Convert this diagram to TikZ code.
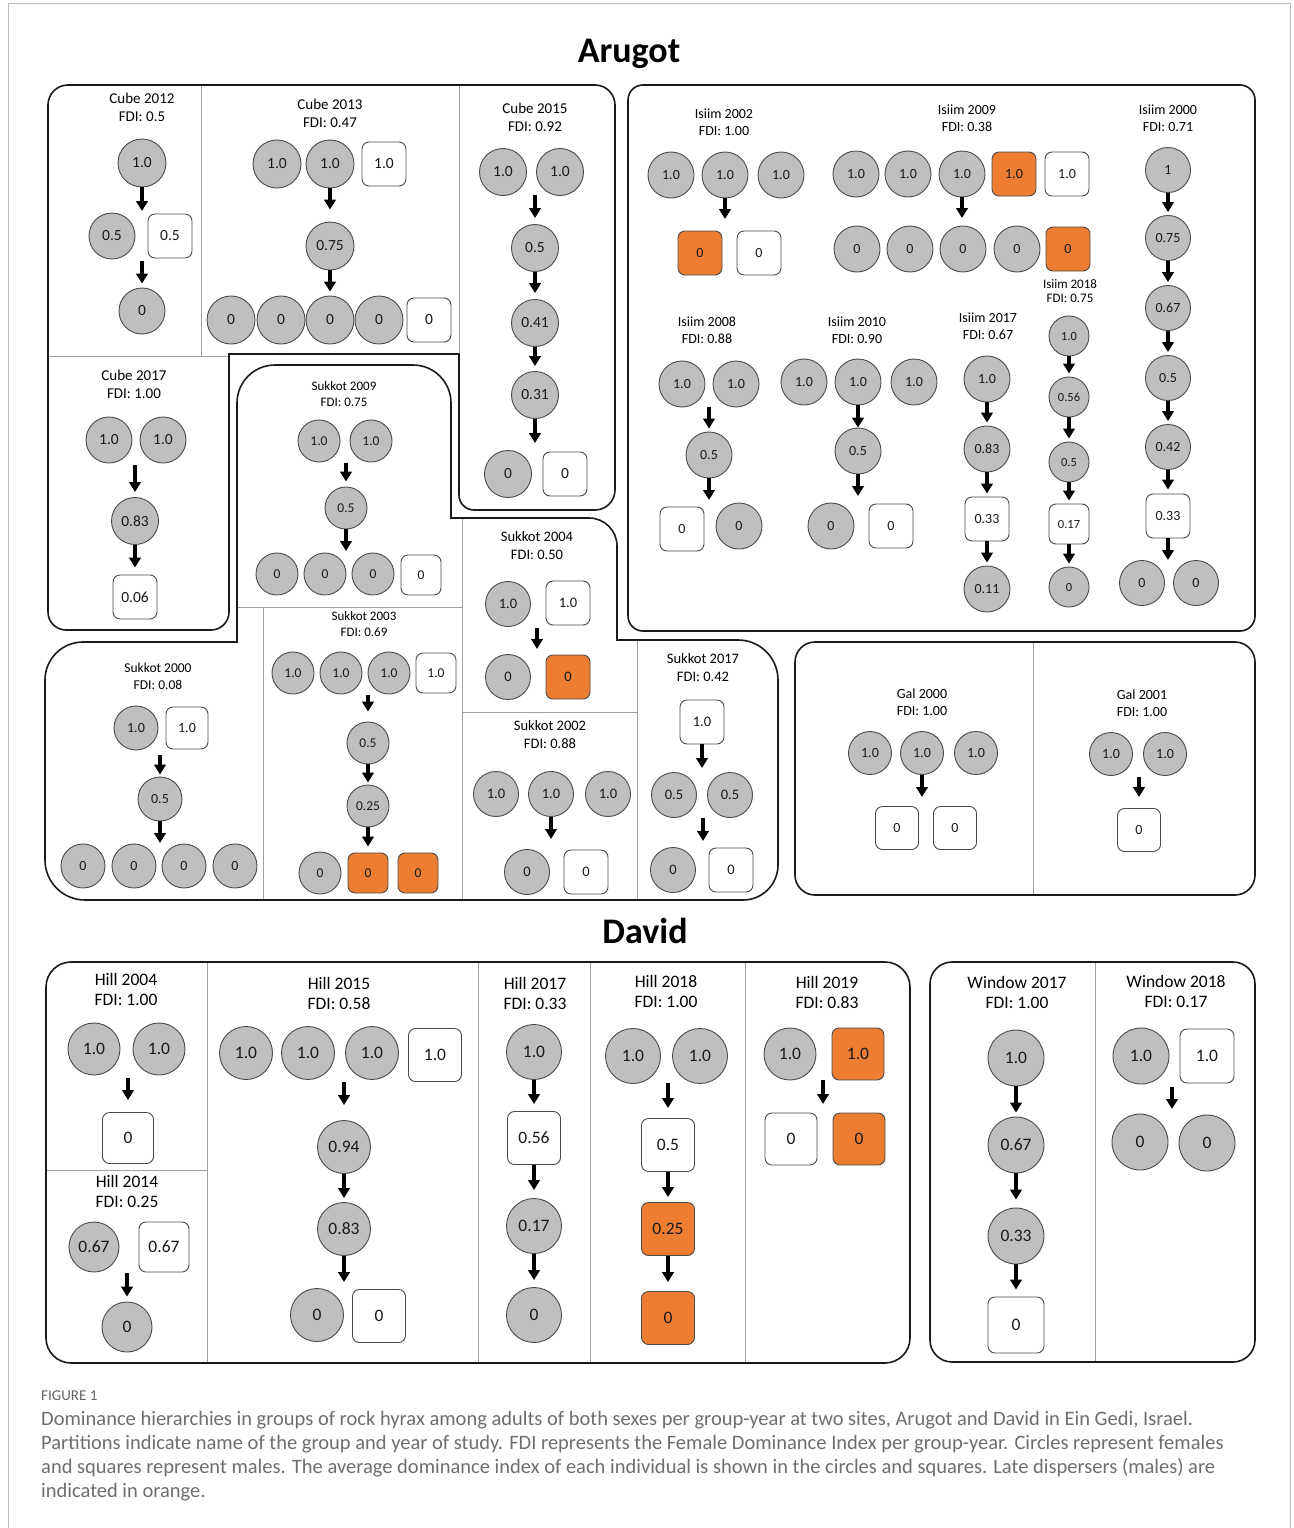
\documentclass[tikz,border=0pt]{standalone}
\usepackage{fontspec}
\setmainfont{Carlito}
\usetikzlibrary{arrows.meta}
\definecolor{fgray}{HTML}{BFBFBF}
\definecolor{ndraw}{HTML}{4A4A4A}
\definecolor{orng}{HTML}{ED7D31}
\definecolor{boxc}{HTML}{1A1A1A}
\definecolor{sepc}{HTML}{A0A0A0}
\definecolor{capc}{HTML}{6E6E6E}
\definecolor{framec}{HTML}{BDBDBD}
\tikzset{
  F/.style={circle, draw=ndraw, fill=fgray, line width=0.9pt, minimum size=#1pt, inner sep=0pt, text=black!90},
  F/.default=46,
  M/.style={rectangle, rounded corners=7pt, draw=ndraw, fill=white, line width=0.9pt, minimum size=#1pt, inner sep=0pt, text=black!90},
  M/.default=44,
  O/.style={M=#1, fill=orng},
  O/.default=44,
  arr/.style={line width=3.2pt, draw=black, -{Triangle[width=11.5pt,length=10pt]}},
  box/.style={draw=boxc, line width=1.6pt},
  sep/.style={draw=sepc, line width=1pt},
  ttl/.style={align=center, inner sep=0pt, text=black},
  captxt/.style={anchor=west, inner sep=0pt, text=capc, font=\fontsize{20.5}{22}\selectfont},
}
\begin{document}
\begin{tikzpicture}[x=1pt,y=-1pt]
\useasboundingbox (0,0) rectangle (1293,1528);
\fill[white] (0,0) rectangle (1293,1528);
\draw[framec, line width=1pt] (8,1528) -- (8,4) -- (1290,4) -- (1290,1528);

% site titles
\node[font=\fontsize{36}{36}\selectfont\bfseries] (tA) at (629,54) {Arugot};
\node[font=\fontsize{36}{36}\selectfont\bfseries] (tD) at (645,931) {David};

% separators
\draw[sep] (201,85) -- (201,356);
\draw[sep] (48,356) -- (229,356);
\draw[sep] (459,85) -- (459,354);
\draw[sep] (237,607) -- (462,607);
\draw[sep] (263,607) -- (263,900);
\draw[sep] (462,518) -- (462,900);
\draw[sep] (462,712) -- (637,712);
\draw[sep] (637,640) -- (637,900);
\draw[sep] (1033,642) -- (1033,895);
\draw[sep] (207,962) -- (207,1363);
\draw[sep] (478,962) -- (478,1363);
\draw[sep] (590,962) -- (590,1363);
\draw[sep] (745,962) -- (745,1363);
\draw[sep] (46,1170) -- (207,1170);
\draw[sep] (1095,962) -- (1095,1362);

% outlines
\draw[box] (68,85) -- (595,85) arc(270:360:20) -- (615,490) arc(0:90:20) -- (474,510) arc(90:180:15) -- (459,354) -- (229,354) -- (229,612) arc(0:90:18) -- (66,630) arc(90:180:18) -- (48,105) arc(180:270:20) -- cycle;
\draw[box] (237,403) arc(180:270:38) -- (413,365) arc(270:360:38) -- (451,518) -- (589,518) arc(270:360:28) -- (617,640) -- (738,640) arc(270:360:40) -- (778,865) arc(0:90:35) -- (85,900) arc(90:180:40) -- (45,680) arc(180:270:38) -- (237,642) -- cycle;
\draw[box, rounded corners=15pt] (628,85) rectangle (1255,631);
\draw[box, rounded corners=20pt] (795,642) rectangle (1255,895);
\draw[box, rounded corners=25pt] (46,962) rectangle (910,1363);
\draw[box, rounded corners=22pt] (930,962) rectangle (1255,1362);

% ---------------- Cube
\begin{scope}[every node/.append style={font=\fontsize{15.5}{18}\selectfont}, ttl/.append style={font=\fontsize{15}{18}\selectfont}]
\node[ttl] (t12) at (142,107) {Cube 2012\\FDI: 0.5};
\node[F=48] (c12a) at (142,163) {1.0};
\node[F=46] (c12b) at (112,236) {0.5};
\node[M=44] (c12c) at (170,236) {0.5};
\node[F=46] (c12d) at (142,311) {0};
\coordinate (c12p) at (142,211);
\coordinate (c12q) at (142,261);
\draw[arr] (c12a) -- (c12p);
\draw[arr, shorten >=4pt] (c12q) -- (c12d);

\node[ttl] (t13) at (330,113) {Cube 2013\\FDI: 0.47};
\node[F=48] (c13a) at (277,164) {1.0};
\node[F=48] (c13b) at (330,164) {1.0};
\node[M=44] (c13c) at (384,164) {1.0};
\node[F=48] (c13d) at (330,246) {0.75};
\node[F=48] (c13e) at (231,320) {0};
\node[F=48] (c13f) at (281,320) {0};
\node[F=48] (c13g) at (330,320) {0};
\node[F=48] (c13h) at (379,320) {0};
\node[M=44] (c13i) at (429,320) {0};
\draw[arr, shorten >=12pt] (c13b) -- (c13d);
\draw[arr, shorten >=4pt] (c13d) -- (c13g);

\node[ttl] (t15) at (535,117) {Cube 2015\\FDI: 0.92};
\node[F=47] (c15a) at (503,172) {1.0};
\node[F=47] (c15b) at (560,172) {1.0};
\node[F=47] (c15c) at (535,248) {0.5};
\node[F=47] (c15d) at (535,323) {0.41};
\node[F=47] (c15e) at (535,395) {0.31};
\node[F=47] (c15f) at (508,474) {0};
\node[M=44] (c15g) at (565,474) {0};
\coordinate (c15p) at (535,195);
\coordinate (c15q) at (535,443);
\draw[arr, shorten >=6pt] (c15p) -- (c15c);
\draw[arr, shorten >=6pt] (c15c) -- (c15d);
\draw[arr, shorten >=5pt] (c15d) -- (c15e);
\draw[arr] (c15e) -- (c15q);

\node[ttl] (t17) at (134,384) {Cube 2017\\FDI: 1.00};
\node[F=46] (c17a) at (109,440) {1.0};
\node[F=46] (c17b) at (163,440) {1.0};
\node[F=47] (c17c) at (135,521) {0.83};
\node[M=44] (c17d) at (135,597) {0.06};
\coordinate (c17p) at (135,465);
\draw[arr, shorten >=5pt] (c17p) -- (c17c);
\draw[arr, shorten >=7pt] (c17c) -- (c17d);
\end{scope}

% ---------------- Sukkot
\begin{scope}[every node/.append style={font=\fontsize{13.5}{16}\selectfont}, ttl/.append style={font=\fontsize{13}{16}\selectfont}]
\node[ttl] (ts09) at (344,394) {Sukkot 2009\\FDI: 0.75};
\node[F=42] (s09a) at (319,441) {1.0};
\node[F=42] (s09b) at (371,441) {1.0};
\node[F=42] (s09c) at (346,508) {0.5};
\node[F=42] (s09d) at (277,574) {0};
\node[F=42] (s09e) at (325,574) {0};
\node[F=42] (s09f) at (373,574) {0};
\node[M=40] (s09g) at (421,575) {0};
\coordinate (s09p) at (346,463);
\coordinate (s09q) at (346,551);
\draw[arr, shorten >=5pt] (s09p) -- (s09c);
\draw[arr] (s09c) -- (s09q);

\node[ttl] (ts03) at (364,624) {Sukkot 2003\\FDI: 0.69};
\node[F=42] (s03a) at (293,673) {1.0};
\node[F=42] (s03b) at (341,673) {1.0};
\node[F=42] (s03c) at (389,673) {1.0};
\node[M=40] (s03d) at (436,673) {1.0};
\node[F=42] (s03e) at (368,743) {0.5};
\node[F=42] (s03f) at (368,806) {0.25};
\node[F=42] (s03g) at (320,873) {0};
\node[O=40] (s03h) at (368,873) {0};
\node[O=40] (s03i) at (418,873) {0};
\coordinate (s03p) at (368,695);
\draw[arr, shorten >=10pt] (s03p) -- (s03e);
\draw[arr, shorten >=2pt] (s03e) -- (s03f);
\draw[arr, shorten >=6pt] (s03f) -- (s03h);
\end{scope}

\begin{scope}[every node/.append style={font=\fontsize{14}{17}\selectfont}, ttl/.append style={font=\fontsize{13.5}{17}\selectfont}]
\node[ttl] (ts00) at (158,676) {Sukkot 2000\\FDI: 0.08};
\node[F=44] (s00a) at (136,728) {1.0};
\node[M=42] (s00b) at (187,728) {1.0};
\node[F=44] (s00c) at (160,799) {0.5};
\node[F=44] (s00d) at (83,866) {0};
\node[F=44] (s00e) at (134,866) {0};
\node[F=44] (s00f) at (184,866) {0};
\node[F=44] (s00g) at (235,866) {0};
\coordinate (s00p) at (160,755);
\coordinate (s00q) at (160,843);
\draw[arr, shorten >=2pt] (s00p) -- (s00c);
\draw[arr] (s00c) -- (s00q);
\end{scope}

\begin{scope}[every node/.append style={font=\fontsize{14.5}{18}\selectfont}]
\node[ttl] (ts04) at (537,546) {Sukkot 2004\\FDI: 0.50};
\node[F=45] (s04a) at (508,604) {1.0};
\node[M=44] (s04b) at (568,603) {1.0};
\node[F=45] (s04c) at (508,677) {0};
\node[O=44] (s04d) at (568,677) {0};
\coordinate (s04p) at (537,628);
\coordinate (s04q) at (537,649);
\draw[arr] (s04p) -- (s04q);

\node[ttl] (ts02) at (550,735) {Sukkot 2002\\FDI: 0.88};
\node[F=45] (s02a) at (496,794) {1.0};
\node[F=45] (s02b) at (551,794) {1.0};
\node[F=45] (s02c) at (608,794) {1.0};
\node[F=45] (s02d) at (527,872) {0};
\node[M=44] (s02e) at (586,872) {0};
\coordinate (s02q) at (551,839);
\draw[arr] (s02b) -- (s02q);

\node[ttl] (ts17) at (703,668) {Sukkot 2017\\FDI: 0.42};
\node[M=44] (s17a) at (702,722) {1.0};
\node[F=45] (s17b) at (674,795) {0.5};
\node[F=45] (s17c) at (730,795) {0.5};
\node[F=45] (s17d) at (673,870) {0};
\node[M=44] (s17e) at (731,870) {0};
\coordinate (s17q) at (702,768);
\coordinate (s17p) at (703,818);
\coordinate (s17r) at (703,841);
\draw[arr] (s17a) -- (s17q);
\draw[arr] (s17p) -- (s17r);
\end{scope}

% ---------------- Isiim
\begin{scope}[every node/.append style={font=\fontsize{14}{17}\selectfont}]
\node[ttl] (ti02) at (724,122) {Isiim 2002\\FDI: 1.00};
\node[F=46] (i02a) at (671,175) {1.0};
\node[F=46] (i02b) at (725,175) {1.0};
\node[F=46] (i02c) at (781,175) {1.0};
\node[O=44] (i02d) at (700,253) {0};
\node[M=44] (i02e) at (759,253) {0};
\coordinate (i02q) at (725,219);
\draw[arr] (i02b) -- (i02q);

\node[ttl] (ti09) at (967,118) {Isiim 2009\\FDI: 0.38};
\node[F=46] (i09a) at (856,174) {1.0};
\node[F=46] (i09b) at (908,174) {1.0};
\node[F=46] (i09c) at (962,174) {1.0};
\node[O=44] (i09d) at (1014,174) {1.0};
\node[M=44] (i09e) at (1067,174) {1.0};
\node[F=46] (i09f) at (857,249) {0};
\node[F=46] (i09g) at (910,249) {0};
\node[F=46] (i09h) at (963,249) {0};
\node[F=46] (i09i) at (1017,249) {0};
\node[O=44] (i09j) at (1068,249) {0};
\coordinate (i09q) at (962,218);
\draw[arr] (i09c) -- (i09q);

\node[ttl] (ti00) at (1168,118) {Isiim 2000\\FDI: 0.71};
\node[F=45] (i00a) at (1168,170) {1};
\node[F=45] (i00b) at (1168,238) {0.75};
\node[F=45] (i00c) at (1168,308) {0.67};
\node[F=45] (i00d) at (1168,378) {0.5};
\node[F=45] (i00e) at (1168,447) {0.42};
\node[M=44] (i00f) at (1168,516) {0.33};
\node[F=45] (i00g) at (1142,583) {0};
\node[F=45] (i00h) at (1196,583) {0};
\coordinate (i00q) at (1168,560);
\draw[arr, shorten >=3pt] (i00a) -- (i00b);
\draw[arr, shorten >=3pt] (i00b) -- (i00c);
\draw[arr, shorten >=3pt] (i00c) -- (i00d);
\draw[arr, shorten >=3pt] (i00d) -- (i00e);
\draw[arr, shorten >=4pt] (i00e) -- (i00f);
\draw[arr] (i00f) -- (i00q);

\node[ttl] (ti08) at (707,330) {Isiim 2008\\FDI: 0.88};
\node[F=46] (i08a) at (682,384) {1.0};
\node[F=46] (i08b) at (736,384) {1.0};
\node[F=46] (i08c) at (709,455) {0.5};
\node[M=44] (i08d) at (682,529) {0};
\node[F=46] (i08e) at (739,526) {0};
\coordinate (i08p) at (709,407);
\coordinate (i08q) at (709,500);
\draw[arr, shorten >=3pt] (i08p) -- (i08c);
\draw[arr] (i08c) -- (i08q);

\node[ttl] (ti10) at (857,330) {Isiim 2010\\FDI: 0.90};
\node[F=46] (i10a) at (804,382) {1.0};
\node[F=46] (i10b) at (858,382) {1.0};
\node[F=46] (i10c) at (914,382) {1.0};
\node[F=46] (i10d) at (858,451) {0.5};
\node[F=46] (i10e) at (831,526) {0};
\node[M=44] (i10f) at (891,526) {0};
\coordinate (i10q) at (858,496);
\draw[arr] (i10b) -- (i10d);
\draw[arr] (i10d) -- (i10q);

\node[ttl] (ti17) at (988,326) {Isiim 2017\\FDI: 0.67};
\node[F=46] (i17a) at (987,379) {1.0};
\node[F=46] (i17b) at (987,449) {0.83};
\node[M=44] (i17c) at (987,519) {0.33};
\node[F=46] (i17d) at (987,589) {0.11};
\draw[arr, shorten >=3pt] (i17a) -- (i17b);
\draw[arr, shorten >=3pt] (i17b) -- (i17c);
\draw[arr, shorten >=3pt] (i17c) -- (i17d);
\end{scope}

\begin{scope}[every node/.append style={font=\fontsize{12.5}{14.5}\selectfont}, ttl/.append style={font=\fontsize{13}{14.5}\selectfont}]
\node[ttl] (ti18) at (1070,291) {Isiim 2018\\FDI: 0.75};
\node[F=40] (i18a) at (1069,336) {1.0};
\node[F=40] (i18b) at (1069,397) {0.56};
\node[F=40] (i18c) at (1069,462) {0.5};
\node[M=40] (i18d) at (1069,524) {0.17};
\node[F=40] (i18e) at (1069,587) {0};
\draw[arr, shorten >=3pt] (i18a) -- (i18b);
\draw[arr, shorten >=3pt] (i18b) -- (i18c);
\draw[arr, shorten >=3pt] (i18c) -- (i18d);
\draw[arr, shorten >=3pt] (i18d) -- (i18e);
\end{scope}

% ---------------- Gal
\begin{scope}[every node/.append style={font=\fontsize{14}{17}\selectfont}]
\node[ttl] (tg00) at (922,702) {Gal 2000\\FDI: 1.00};
\node[F=43] (g00a) at (870,753) {1.0};
\node[F=43] (g00b) at (922,753) {1.0};
\node[F=43] (g00c) at (976,753) {1.0};
\node[M=43] (g00d) at (897,828) {0};
\node[M=43] (g00e) at (955,828) {0};
\coordinate (g00q) at (922,797);
\draw[arr] (g00b) -- (g00q);

\node[ttl] (tg01) at (1142,703) {Gal 2001\\FDI: 1.00};
\node[F=43] (g01a) at (1111,754) {1.0};
\node[F=43] (g01b) at (1165,754) {1.0};
\node[M=43] (g01c) at (1139,830) {0};
\coordinate (g01p) at (1139,777);
\draw[arr, shorten >=11pt] (g01p) -- (g01c);
\end{scope}

% ---------------- David
\begin{scope}[every node/.append style={font=\fontsize{17.5}{20}\selectfont}]
\node[ttl] (th04) at (126,989) {Hill 2004\\FDI: 1.00};
\node[F=52] (h04a) at (94,1049) {1.0};
\node[F=52] (h04b) at (159,1049) {1.0};
\node[M=51] (h04c) at (128,1138) {0};
\coordinate (h04p) at (128,1078);
\draw[arr, shorten >=12pt] (h04p) -- (h04c);

\node[ttl] (th14) at (127,1191) {Hill 2014\\FDI: 0.25};
\node[F=50] (h14a) at (94,1247) {0.67};
\node[M=50] (h14b) at (164,1247) {0.67};
\node[F=50] (h14c) at (127,1327) {0};
\coordinate (h14p) at (127,1273);
\draw[arr, shorten >=5pt] (h14p) -- (h14c);

\node[ttl] (th15) at (339,993) {Hill 2015\\FDI: 0.58};
\node[F=53] (h15a) at (246,1053) {1.0};
\node[F=53] (h15b) at (308,1053) {1.0};
\node[F=53] (h15c) at (372,1053) {1.0};
\node[M=53] (h15d) at (435,1055) {1.0};
\node[F=53] (h15e) at (344,1147) {0.94};
\node[F=53] (h15f) at (344,1229) {0.83};
\node[F=53] (h15g) at (317,1315) {0};
\node[M=53] (h15h) at (379,1316) {0};
\coordinate (h15p) at (344,1082);
\coordinate (h15q) at (344,1282);
\draw[arr, shorten >=15pt] (h15p) -- (h15e);
\draw[arr, shorten >=4pt] (h15e) -- (h15f);
\draw[arr] (h15f) -- (h15q);

\node[ttl] (th17) at (535,993) {Hill 2017\\FDI: 0.33};
\node[F=55] (h17a) at (534,1052) {1.0};
\node[M=53] (h17b) at (534,1138) {0.56};
\node[F=55] (h17c) at (534,1226) {0.17};
\node[F=55] (h17d) at (534,1315) {0};
\draw[arr, shorten >=7pt] (h17a) -- (h17b);
\draw[arr, shorten >=8pt] (h17b) -- (h17c);
\draw[arr, shorten >=7pt] (h17c) -- (h17d);

\node[ttl] (th18) at (666,991) {Hill 2018\\FDI: 1.00};
\node[F=55] (h18a) at (633,1056) {1.0};
\node[F=55] (h18b) at (700,1056) {1.0};
\node[M=53] (h18c) at (668,1145) {0.5};
\node[O=53] (h18d) at (668,1229) {0.25};
\node[O=53] (h18e) at (668,1318) {0};
\coordinate (h18p) at (668,1083);
\draw[arr, shorten >=10pt] (h18p) -- (h18c);
\draw[arr, shorten >=5pt] (h18c) -- (h18d);
\draw[arr, shorten >=9pt] (h18d) -- (h18e);

\node[ttl] (th19) at (827,992) {Hill 2019\\FDI: 0.83};
\node[F=52] (h19a) at (790,1054) {1.0};
\node[O=52] (h19b) at (858,1054) {1.0};
\node[M=52] (h19c) at (791,1139) {0};
\node[O=52] (h19d) at (859,1139) {0};
\coordinate (h19p) at (823,1080);
\coordinate (h19q) at (823,1104);
\draw[arr] (h19p) -- (h19q);

\node[ttl] (tw17) at (1017,992) {Window 2017\\FDI: 1.00};
\node[F=56] (w17a) at (1016,1058) {1.0};
\node[F=56] (w17b) at (1016,1145) {0.67};
\node[F=56] (w17c) at (1016,1236) {0.33};
\node[M=56] (w17d) at (1016,1325) {0};
\draw[arr, shorten >=4pt] (w17a) -- (w17b);
\draw[arr, shorten >=8pt] (w17b) -- (w17c);
\draw[arr, shorten >=7pt] (w17c) -- (w17d);

\node[ttl] (tw18) at (1176,991) {Window 2018\\FDI: 0.17};
\node[F=56] (w18a) at (1141,1056) {1.0};
\node[M=54] (w18b) at (1207,1056) {1.0};
\node[F=56] (w18c) at (1140,1142) {0};
\node[F=56] (w18d) at (1207,1143) {0};
\coordinate (w18p) at (1172,1087);
\coordinate (w18q) at (1172,1109);
\draw[arr] (w18p) -- (w18q);
\end{scope}

% ---------------- caption
\node[captxt, font=\fontsize{15}{16}\selectfont, text=capc!90!black] (fig) at (41,1396) {FIGURE 1};
\node[captxt] (cap1) at (41,1420) {Dominance hierarchies in groups of rock hyrax among adults of both sexes per group-year at two sites, Arugot and David in Ein Gedi, Israel.};
\node[captxt] (cap2) at (41,1444) {Partitions indicate name of the group and year of study. FDI represents the Female Dominance Index per group-year. Circles represent females};
\node[captxt] (cap3) at (41,1468) {and squares represent males. The average dominance index of each individual is shown in the circles and squares. Late dispersers (males) are};
\node[captxt] (cap4) at (41,1492) {indicated in orange.};
\end{tikzpicture}
\end{document}
